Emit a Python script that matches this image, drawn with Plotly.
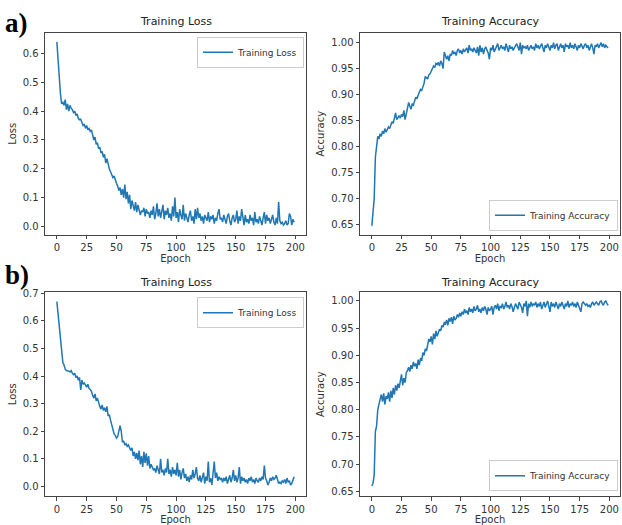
import plotly.graph_objects as go

epochs = list(range(200))

loss_a = [
    0.640, 0.580, 0.500, 0.460, 0.425, 0.430, 0.420, 0.440, 0.405, 0.425,
    0.400, 0.420, 0.410, 0.405, 0.395, 0.400, 0.385, 0.390, 0.375, 0.370,
    0.372, 0.360, 0.350, 0.355, 0.340, 0.350, 0.335, 0.340, 0.330, 0.335,
    0.320, 0.300, 0.310, 0.285, 0.290, 0.270, 0.275, 0.255, 0.260, 0.240,
    0.250, 0.220, 0.235, 0.215, 0.200, 0.190, 0.180, 0.170, 0.175, 0.160,
    0.150, 0.140, 0.125, 0.135, 0.110, 0.130, 0.100, 0.145, 0.095, 0.120,
    0.080, 0.110, 0.060, 0.090, 0.070, 0.055, 0.085, 0.050, 0.075, 0.060,
    0.040, 0.055, 0.050, 0.065, 0.035, 0.060, 0.045, 0.050, 0.030, 0.055,
    0.040, 0.070, 0.025, 0.045, 0.080, 0.035, 0.060, 0.030, 0.050, 0.075,
    0.025, 0.055, 0.040, 0.065, 0.030, 0.045, 0.020, 0.070, 0.035, 0.100,
    0.030, 0.050, 0.015, 0.060, 0.040, 0.025, 0.075, 0.020, 0.045, 0.030,
    0.015, 0.040, 0.055, 0.020, 0.035, 0.010, 0.060, 0.025, 0.065, 0.030,
    0.045, 0.020, 0.035, 0.010, 0.040, 0.030, 0.020, 0.050, 0.015, 0.035,
    0.025, 0.040, 0.010, 0.030, 0.020, 0.045, 0.060, 0.025, 0.030, 0.015,
    0.040, 0.025, 0.010, 0.035, 0.045, 0.020, 0.005, 0.030, 0.040, 0.015,
    0.025, 0.055, 0.010, 0.035, 0.020, 0.060, 0.030, 0.005, 0.040, 0.015,
    0.025, 0.010, 0.040, 0.020, 0.030, 0.005, 0.050, 0.015, 0.025, 0.010,
    0.035, 0.015, 0.005, 0.030, 0.050, 0.010, 0.040, 0.020, 0.030, 0.010,
    0.025, 0.040, 0.015, 0.005, 0.030, 0.010, 0.085, 0.020, 0.010, 0.015,
    0.005, 0.010, 0.020, 0.005, 0.010, 0.045, 0.035, 0.005, 0.025, 0.015,
]

acc_a = [
    0.648, 0.670, 0.700, 0.780, 0.800, 0.820, 0.815, 0.825, 0.820, 0.830,
    0.825, 0.835, 0.828, 0.832, 0.838, 0.835, 0.842, 0.848, 0.845, 0.855,
    0.865, 0.852, 0.858, 0.860, 0.855, 0.862, 0.858, 0.870, 0.852, 0.865,
    0.872, 0.885, 0.878, 0.872, 0.882, 0.880, 0.888, 0.895, 0.892, 0.900,
    0.905, 0.910, 0.908, 0.915, 0.922, 0.935, 0.932, 0.930, 0.938, 0.940,
    0.945, 0.950, 0.955, 0.952, 0.960, 0.958, 0.962, 0.955, 0.965, 0.960,
    0.950, 0.982, 0.972, 0.968, 0.975, 0.965, 0.978, 0.975, 0.985, 0.978,
    0.982, 0.975, 0.985, 0.988, 0.980, 0.985, 0.978, 0.988, 0.982, 0.985,
    0.990, 0.980, 0.995, 0.985, 0.988, 0.982, 0.990, 0.985, 0.980, 0.992,
    0.975, 0.995, 0.982, 0.990, 0.978, 0.988, 0.992, 0.985, 0.980, 0.968,
    0.990, 0.985, 0.995, 0.982, 0.988, 0.992, 0.998, 0.985, 0.990, 0.995,
    0.988, 0.992, 0.985, 0.998, 0.990, 0.982, 0.995, 0.988, 0.992, 0.985,
    0.990, 0.995, 0.998, 0.992, 0.985, 1.000, 0.978, 0.995, 0.990, 0.992,
    0.988, 0.995, 0.985, 0.990, 0.995, 0.988, 0.992, 0.985, 0.998, 0.990,
    0.995, 0.988, 0.992, 0.998, 0.990, 0.982, 0.995, 0.990, 0.998, 0.992,
    0.985, 0.995, 0.990, 1.000, 0.988, 0.995, 0.998, 0.985, 0.992, 0.998,
    0.990, 0.995, 0.982, 0.998, 0.992, 0.995, 0.988, 1.000, 0.990, 0.995,
    0.988, 0.998, 0.992, 0.985, 0.995, 0.990, 0.998, 0.992, 0.988, 0.995,
    0.998, 0.990, 0.995, 0.985, 0.992, 0.998, 0.990, 0.978, 0.995, 0.992,
    0.998, 0.990, 0.995, 1.000, 0.992, 0.998, 0.990, 0.995, 0.992, 0.990,
]

loss_b = [
    0.670, 0.620, 0.570, 0.520, 0.500, 0.450, 0.440, 0.425, 0.420, 0.420,
    0.418, 0.415, 0.420, 0.410, 0.405, 0.410, 0.395, 0.400, 0.385, 0.395,
    0.350, 0.385, 0.370, 0.375, 0.365, 0.360, 0.370, 0.355, 0.350, 0.345,
    0.330, 0.320, 0.335, 0.310, 0.320, 0.300, 0.290, 0.280, 0.295, 0.275,
    0.285, 0.270, 0.290, 0.255, 0.260, 0.240, 0.220, 0.200, 0.190, 0.185,
    0.175, 0.180, 0.200, 0.220, 0.200, 0.160, 0.165, 0.150, 0.155, 0.145,
    0.150, 0.140, 0.130, 0.140, 0.110, 0.125, 0.100, 0.120, 0.095, 0.130,
    0.080, 0.110, 0.070, 0.125, 0.085, 0.120, 0.075, 0.110, 0.065, 0.080,
    0.070, 0.060, 0.065, 0.050, 0.075, 0.055, 0.045, 0.100, 0.050, 0.060,
    0.040, 0.065, 0.050, 0.100, 0.045, 0.060, 0.035, 0.070, 0.045, 0.060,
    0.040, 0.085, 0.035, 0.060, 0.025, 0.050, 0.065, 0.030, 0.045, 0.020,
    0.035, 0.015, 0.040, 0.025, 0.060, 0.030, 0.045, 0.070, 0.030, 0.020,
    0.040, 0.015, 0.030, 0.050, 0.010, 0.035, 0.020, 0.090, 0.015, 0.030,
    0.005, 0.040, 0.090, 0.030, 0.050, 0.020, 0.035, 0.025, 0.030, 0.015,
    0.030, 0.020, 0.035, 0.010, 0.025, 0.040, 0.015, 0.030, 0.060, 0.020,
    0.040, 0.015, 0.030, 0.070, 0.010, 0.035, 0.020, 0.030, 0.015, 0.025,
    0.010, 0.030, 0.020, 0.035, 0.015, 0.025, 0.010, 0.030, 0.020, 0.015,
    0.030, 0.020, 0.035, 0.025, 0.075, 0.030, 0.020, 0.005, 0.015, 0.030,
    0.020, 0.035, 0.025, 0.030, 0.040, 0.020, 0.010, 0.015, 0.010, 0.020,
    0.015, 0.025, 0.010, 0.030, 0.015, 0.020, 0.005, 0.010, 0.025, 0.035,
]

acc_b = [
    0.660, 0.665, 0.680, 0.760, 0.770, 0.800, 0.810, 0.820, 0.828, 0.815,
    0.830, 0.810, 0.825, 0.820, 0.832, 0.815, 0.835, 0.822, 0.840, 0.828,
    0.845, 0.835, 0.848, 0.840, 0.852, 0.865, 0.845, 0.858, 0.850, 0.868,
    0.872, 0.878, 0.870, 0.882, 0.875, 0.888, 0.880, 0.885, 0.875, 0.892,
    0.882, 0.895, 0.890, 0.905, 0.900, 0.912, 0.908, 0.918, 0.930, 0.925,
    0.935, 0.920, 0.940, 0.930, 0.945, 0.935, 0.942, 0.948, 0.945, 0.955,
    0.952, 0.960, 0.958, 0.965, 0.955, 0.968, 0.962, 0.970, 0.958, 0.972,
    0.965, 0.968, 0.975, 0.970, 0.978, 0.972, 0.980, 0.975, 0.985, 0.978,
    0.982, 0.975, 0.988, 0.980, 0.985, 0.978, 0.990, 0.982, 0.985, 0.992,
    0.980, 0.985, 0.978, 0.988, 0.982, 0.990, 0.985, 0.975, 0.988, 0.982,
    0.985, 0.990, 0.975, 0.988, 0.992, 0.985, 0.995, 0.982, 0.990, 0.988,
    0.995, 0.985, 0.990, 0.998, 0.988, 0.992, 0.985, 0.995, 0.990, 0.980,
    0.988, 0.995, 0.990, 0.985, 0.998, 0.992, 0.988, 0.978, 0.995, 0.990,
    1.000, 0.972, 0.995, 0.988, 0.998, 0.990, 0.995, 0.992, 0.998, 0.988,
    0.995, 0.990, 0.998, 0.985, 0.992, 0.998, 0.988, 0.995, 1.000, 0.990,
    0.980, 0.998, 0.990, 0.995, 0.988, 0.998, 0.992, 0.985, 0.995, 0.990,
    0.998, 0.992, 0.985, 0.995, 0.990, 1.000, 0.988, 0.995, 0.992, 0.998,
    0.990, 0.995, 0.988, 0.998, 0.992, 0.985, 0.980, 0.995, 0.998, 0.995,
    0.992, 0.995, 0.990, 0.992, 0.988, 0.995, 0.998, 0.992, 0.995, 0.998,
    0.995, 0.992, 0.998, 1.000, 0.995, 0.992, 0.998, 1.000, 0.995, 0.992,
]

x_ticks = [0, 25, 50, 75, 100, 125, 150, 175, 200]
loss_ticks_a = [0.0, 0.1, 0.2, 0.3, 0.4, 0.5, 0.6]
loss_ticks_b = [0.0, 0.1, 0.2, 0.3, 0.4, 0.5, 0.6, 0.7]
acc_ticks = [0.65, 0.70, 0.75, 0.80, 0.85, 0.90, 0.95, 1.00]

W, H = 622, 525
BLUE = "#1f77b4"
FONT = "DejaVu Sans"
AX = "#444444"
TXT = "#333333"

def px_x(a, b):
    return [a / W, b / W]

def px_y(top, bottom):
    return [1 - bottom / H, 1 - top / H]

fig = go.Figure()

panels = [
    (loss_a, "Training Loss", "legend", ""),
    (acc_a, "Training Accuracy", "legend2", "2"),
    (loss_b, "Training Loss", "legend3", "3"),
    (acc_b, "Training Accuracy", "legend4", "4"),
]
for vals, name, leg, sfx in panels:
    fig.add_trace(go.Scatter(
        x=epochs, y=vals, mode="lines", name=name,
        line=dict(color=BLUE, width=1.5),
        xaxis="x" + sfx, yaxis="y" + sfx, legend=leg, showlegend=True,
    ))

def xax(domain, anchor):
    return dict(
        domain=domain, anchor=anchor, range=[-9.95, 208.95],
        tickvals=x_ticks, ticks="outside", ticklen=3.5, tickwidth=0.8,
        tickcolor=AX, showline=True, linecolor=AX, linewidth=0.8, mirror=True,
        showgrid=False, zeroline=False, ticklabeloverflow="allow",
        tickfont=dict(family=FONT, size=10, color=TXT),
        title=dict(text="Epoch", font=dict(family=FONT, size=10, color=TXT), standoff=1),
    )

def yax(domain, anchor, rng, ticks, fmt, title):
    return dict(
        domain=domain, anchor=anchor, range=rng,
        tickvals=ticks, tickformat=fmt, ticks="outside", ticklen=3.5, tickwidth=0.8,
        tickcolor=AX, showline=True, linecolor=AX, linewidth=0.8, mirror=True,
        showgrid=False, zeroline=False,
        tickfont=dict(family=FONT, size=10, color=TXT),
        title=dict(text=title, font=dict(family=FONT, size=10, color=TXT), standoff=4),
    )

xl = px_x(45, 306)
xr = px_x(360, 620)
yt = px_y(29, 233)
yb = px_y(291, 497)

legend_style = dict(
    bgcolor="rgba(255,255,255,0.85)", bordercolor="#cccccc", borderwidth=1,
    font=dict(family=FONT, size=9, color=TXT), itemwidth=30,
    tracegroupgap=0,
)

fig.update_layout(
    width=W, height=H,
    margin=dict(l=0, r=0, t=0, b=0),
    paper_bgcolor="white", plot_bgcolor="white",
    xaxis=xax(xl, "y"),
    yaxis=yax(yt, "x", [-0.0287, 0.6717], loss_ticks_a, ".1f", "Loss"),
    xaxis2=xax(xr, "y2"),
    yaxis2=yax(yt, "x2", [0.631, 1.019], acc_ticks, ".2f", "Accuracy"),
    xaxis3=xax(xl, "y3"),
    yaxis3=yax(yb, "x3", [-0.036, 0.704], loss_ticks_b, ".1f", "Loss"),
    xaxis4=xax(xr, "y4"),
    yaxis4=yax(yb, "x4", [0.641, 1.016], acc_ticks, ".2f", "Accuracy"),
    legend=dict(x=304 / W, y=1 - 33 / H, xanchor="right", yanchor="top", **legend_style),
    legend2=dict(x=618 / W, y=1 - 229 / H, xanchor="right", yanchor="bottom", **legend_style),
    legend3=dict(x=304 / W, y=1 - 296 / H, xanchor="right", yanchor="top", **legend_style),
    legend4=dict(x=618 / W, y=1 - 492 / H, xanchor="right", yanchor="bottom", **legend_style),
)

title_font = dict(family=FONT, size=11, color="#222222")
annotations = [
    dict(text="Training Loss", x=(45 + 306) / 2 / W, y=1 - 18 / H),
    dict(text="Training Accuracy", x=(360 + 621) / 2 / W, y=1 - 18 / H),
    dict(text="Training Loss", x=(45 + 306) / 2 / W, y=1 - 281 / H),
    dict(text="Training Accuracy", x=(360 + 621) / 2 / W, y=1 - 281 / H),
]
for a in annotations:
    fig.add_annotation(xref="paper", yref="paper", showarrow=False,
                       xanchor="center", yanchor="middle", font=title_font, **a)

label_font = dict(family="Liberation Serif", size=27, color="black")
fig.add_annotation(text="<b>a)</b>", xref="paper", yref="paper", x=3 / W, y=1 - 2 / H,
                   xanchor="left", yanchor="top", showarrow=False, font=label_font)
fig.add_annotation(text="<b>b)</b>", xref="paper", yref="paper", x=3 / W, y=1 - 256 / H,
                   xanchor="left", yanchor="top", showarrow=False, font=label_font)

fig.write_html(
    "out.html",
    config={"displayModeBar": False},
    post_script="document.body.style.margin='0';document.body.style.overflow='hidden';",
)
